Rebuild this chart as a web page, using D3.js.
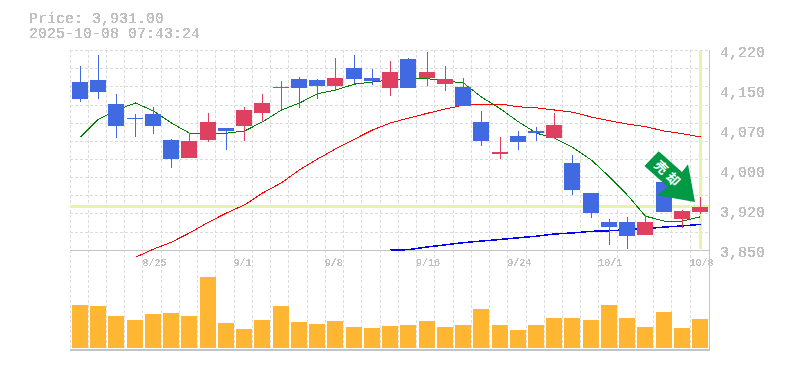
<!DOCTYPE html>
<html><head><meta charset="utf-8">
<script src="https://cdn.jsdelivr.net/npm/d3@7"></script>
<style>
html,body{margin:0;padding:0;background:#fff;overflow:hidden}
svg{display:block}
text{font-family:"Liberation Mono",monospace;fill:#c0c0c0}
</style></head><body>
<script>
const dates=["8/19","8/20","8/21","8/22","8/25","8/26","8/27","8/28","8/29","9/1","9/2","9/3","9/4","9/5","9/8","9/9","9/10","9/11","9/12","9/16","9/17","9/18","9/19","9/22","9/24","9/25","9/26","9/29","9/30","10/1","10/2","10/3","10/6","10/7","10/8"];
const open =[4162,4166,4121,4095,4103,4054,4021,4054,4077,4080,4104,4152,4167,4166,4155,4188,4170,4151,4205,4169,4159,4152,4087,4028,4062,4071,4059,4012,3956,3902,3902,3878,3976,3907,3921];
const close=[4130,4143,4080,4093,4080,4019,4052,4087,4071,4110,4123,4153,4151,4154,4169,4167,4164,4181,4151,4180,4168,4117,4052,4032,4051,4067,4082,3962,3919,3893,3876,3902,3921,3923,3931];
const high =[4192,4212,4139,4102,4116,4056,4067,4104,4077,4115,4139,4164,4171,4167,4206,4212,4186,4201,4207,4218,4192,4169,4108,4060,4071,4079,4105,4026,3956,3908,3912,3915,3989,3925,3949];
const low  =[4125,4130,4058,4060,4065,4003,4021,4051,4035,4053,4088,4112,4113,4130,4145,4158,4156,4136,4151,4155,4145,4117,4043,4019,4036,4052,4056,3952,3910,3860,3852,3878,3921,3891,3917];
const volume=[430,420,320,280,340,350,320,710,250,190,280,420,260,240,270,210,200,220,230,270,210,230,390,230,180,230,300,300,280,430,300,210,360,200,290];
const maShort=[4060,4093,4110,4123,4108,4086,4067,4066,4067,4071,4088,4110,4123,4140,4147,4158,4162,4166,4168,4168,4164,4160,4134,4112,4088,4067,4058,4041,4017,3986,3952,3913,3904,3904,3912];
const maMid=[null,null,null,3837,3852,3865,3882,3902,3919,3934,3956,3975,3999,4019,4038,4056,4073,4086,4095,4104,4112,4119,4121,4121,4116,4114,4110,4106,4097,4090,4084,4079,4071,4066,4060];
const maLong=[null,null,null,null,null,null,null,null,null,null,null,null,null,null,null,null,null,3850,3851,3856,3860,3864,3867,3870,3873,3876,3880,3882,3885,3886,3888,3890,3893,3895,3898];
const priceTicks=[4220,4146,4072,3998,3924,3850];
const priceLabels=["4,220","4,150","4,070","4,000","3,920","3,850"];
const dateTicks=["8/25","9/1","9/8","9/16","9/24","10/1","10/8"];
const titleLines=["Price: 3,931.00","2025-10-08 07:43:24"];
const lastPrice=3931;
const arrowLabel="売却";

const W=785,H=370;
const svg=d3.select("body").append("svg").attr("width",W).attr("height",H);
const defs=svg.append("defs");
const f=defs.append("filter").attr("id","alias").attr("x","-5%").attr("y","-5%").attr("width","110%").attr("height","110%").attr("color-interpolation-filters","sRGB");
f.append("feComponentTransfer").append("feFuncA").attr("type","discrete").attr("tableValues","0 1 1");

const x=d3.scaleBand().domain(dates).range([70,708.4]);
const y=d3.scaleLinear().domain([3850,4220]).range([250.2,50.7]);
const v=d3.scaleLinear().domain([0,1000]).range([348,248]);
const left=d=>Math.round(x(d)+2);
const cx=d=>left(d)+8;
const snap=p=>Math.round(y(p));

// grid
const grid=svg.append("g").attr("stroke","#dcdcdc").attr("stroke-dasharray","3,2").attr("shape-rendering","crispEdges");
grid.selectAll(".gv").data(dates).join("line").attr("class","gv")
 .attr("x1",d=>Math.floor(x(d))+.5).attr("x2",d=>Math.floor(x(d))+.5).attr("y1",50).attr("y2",350);
grid.selectAll(".gh").data(d3.range(11).map(k=>4220-k*370/11)).join("line").attr("class","gh")
 .attr("x1",70).attr("x2",709).attr("y1",d=>Math.floor(y(d))+.5).attr("y2",d=>Math.floor(y(d))+.5);

// current price guides
const guide=svg.append("g").attr("stroke","#e4f5aa").attr("stroke-width",3).attr("shape-rendering","crispEdges");
guide.append("line").attr("x1",70).attr("x2",709).attr("y1",y(lastPrice)+.4).attr("y2",y(lastPrice)+.4);
guide.append("line").attr("x1",cx(dates[34])+.5).attr("x2",cx(dates[34])+.5).attr("y1",51).attr("y2",249);

// frame
const frame=svg.append("g").attr("stroke","#c4c4c4").attr("shape-rendering","crispEdges");
frame.append("line").attr("x1",70).attr("x2",710).attr("y1",250.5).attr("y2",250.5);
frame.append("line").attr("x1",70).attr("x2",710).attr("y1",349.5).attr("y2",349.5).attr("stroke-width",2);
frame.append("line").attr("x1",709.5).attr("x2",709.5).attr("y1",50).attr("y2",350);

// moving averages
const maLine=d3.line().defined(d=>d[1]!==null).x(d=>cx(d[0])+.5).y(d=>y(d[1]));
const drawMA=(vals,col,w)=>svg.append("path").datum(dates.map((d,i)=>[d,vals[i]]))
 .attr("d",maLine).attr("fill","none").attr("stroke",col).attr("stroke-width",w).attr("shape-rendering","crispEdges");
drawMA(maLong,"#0000ff",1.5);
drawMA(maMid,"#ff0000",1);
drawMA(maShort,"#008000",1);

// candles
const up="#e04060",down="#4169e1";
const candles=svg.append("g").attr("shape-rendering","crispEdges").selectAll("g").data(dates).join("g")
 .attr("fill",(d,i)=>close[i]>=open[i]?up:down);
candles.append("rect").attr("x",cx).attr("width",1)
 .attr("y",(d,i)=>snap(high[i])).attr("height",(d,i)=>snap(low[i])-snap(high[i]));
candles.append("rect").attr("x",left).attr("width",16)
 .attr("y",(d,i)=>snap(Math.max(open[i],close[i])))
 .attr("height",(d,i)=>Math.max(1,snap(Math.min(open[i],close[i]))-snap(Math.max(open[i],close[i]))));

// volume
svg.append("g").attr("fill","#ffb733").attr("shape-rendering","crispEdges").selectAll("rect").data(dates).join("rect")
 .attr("x",left).attr("width",16).attr("y",(d,i)=>v(volume[i])).attr("height",(d,i)=>v(0)-v(volume[i]));

// arrow annotation, anchored to the last candles
const arrow=svg.append("g").attr("transform",`translate(${cx(dates[34])-5},${y(lastPrice)-4.5})`);
arrow.append("path").attr("d","M0,0L-7,-37.7L-13,-30L-36.3,-50.7L-50.6,-36L-27,-15L-38,-6.7Z").attr("fill","#009944");
arrow.append("text").attr("transform","translate(-28,-28.5) rotate(45)")
 .attr("text-anchor","middle").attr("dy","4.5").attr("dx","2").attr("letter-spacing","4")
 .style("font-family",'"Noto Sans CJK JP"').style("font-weight",700).style("font-size","13px").style("fill","#fff")
 .text(arrowLabel);

// axes
const yAxis=d3.axisRight(y).tickValues(priceTicks).tickSize(0).tickPadding(0).tickFormat((d,i)=>priceLabels[i]);
const yg=svg.append("g").attr("transform","translate(720,0)").call(yAxis);
yg.select(".domain").remove();
yg.selectAll("text").attr("dy","6").attr("x",0).style("font-size","15px").style("font-family",'"Liberation Mono",monospace').style("fill","#c0c0c0").attr("filter","url(#alias)");

const xAxis=d3.axisBottom(d3.scalePoint().domain(dates).range([cx(dates[0]),cx(dates[34])])).tickValues(dateTicks).tickSize(0).tickPadding(0);
const xg=svg.append("g").attr("transform","translate(0,257)").call(xAxis);
xg.select(".domain").remove();
xg.selectAll("text").attr("text-anchor","start").attr("x",-11).attr("y",9).attr("dy",0).style("font-size","10px").style("font-family",'"Liberation Mono",monospace').style("fill","#c0c0c0").attr("filter","url(#alias)");

// title
svg.append("g").selectAll("text").data(titleLines).join("text")
 .attr("x",29).attr("y",(d,i)=>23+i*15).style("font-size","15px").attr("filter","url(#alias)").text(d=>d);
</script>
</body></html>
